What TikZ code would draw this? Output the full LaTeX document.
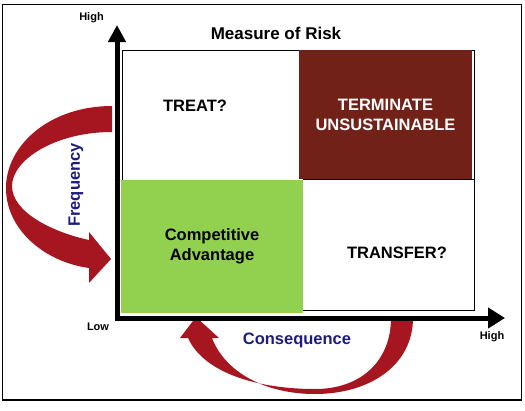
\documentclass[tikz,border=0pt]{standalone}
\usepackage{fontspec}
\setmainfont{Liberation Sans}
\usepackage{tikz}
\usetikzlibrary{arrows.meta,positioning}

\definecolor{termred}{RGB}{114,33,24}
\definecolor{compgreen}{RGB}{146,208,80}
\definecolor{curvered}{RGB}{165,22,32}
\definecolor{axisblue}{RGB}{28,28,125}

\begin{document}
\begin{tikzpicture}[
    x=1pt, y=-1pt,
    quad/.style={rectangle, inner sep=0pt, align=center, font=\bfseries\fontsize{16.5}{19.5}\selectfont},
    lbl/.style={inner sep=0pt, font=\bfseries\fontsize{11}{13}\selectfont},
    axislbl/.style={inner sep=0pt, text=axisblue, font=\bfseries\fontsize{16.5}{19.5}\selectfont},
    axis/.style={line width=5pt, {Triangle[length=17pt,width=17pt]}-{Triangle[length=17pt,width=20pt]}},
    curvearrow/.style={fill=curvered}
]
\useasboundingbox (0,0) rectangle (525,410);
\draw[line width=1.5pt] (2.5,4.5) rectangle (521.5,400);

% the four quadrants
\node[quad, draw, line width=1pt, minimum width=352pt, minimum height=260pt] (grid) at (298,180) {};
\node[quad, fill=termred, text=white, minimum width=173pt, minimum height=129pt] (terminate) at (385.5,114.8) {TERMINATE\\UNSUSTAINABLE};
\node[quad, fill=compgreen, minimum width=182pt, minimum height=133pt] (advantage) at (212,246.5) {Competitive\\Advantage};
\draw[line width=1pt] (advantage.north east) -- (grid.east |- advantage.north);
\node[quad] (treat) at (195,106) {TREAT?};
\node[quad] (transfer) at (397,253) {TRANSFER?};
\node[quad, font=\bfseries\fontsize{17}{20}\selectfont] (title) at (276,33) {Measure of Risk};

% curved arrows
\fill[curvearrow] (112,106) .. controls (50,106) and (6,145) .. (6,188)
    .. controls (6,230) and (45,262) .. (89,268)
    -- (89,283) -- (111,259) -- (89,232) -- (89,240)
    .. controls (52,232) and (12,212) .. (12,186)
    .. controls (12,160) and (55,132) .. (112,132) -- cycle;
\fill[curvearrow] (413,318) .. controls (413,365) and (370,394) .. (315,394)
    .. controls (265,394) and (225,372) .. (212,338)
    -- (219,338) -- (196,317) -- (180,338) -- (188,338)
    .. controls (205,375) and (262,389) .. (315,389)
    .. controls (362,389) and (391,360) .. (391,318) -- cycle;

% axes
\coordinate (origin) at (117,318);
\coordinate (ytip) at (117,25);
\coordinate (xtip) at (505,318);
\draw[axis] (ytip) -- (origin) -- (xtip);

\node[lbl] (yhigh) at (91.5,18) {High};
\node[lbl] (low) at (98,327) {Low};
\node[lbl] (xhigh) at (492,337) {High};
\node[axislbl, rotate=90] (frequency) at (76,185) {Frequency};
\node[axislbl] (consequence) at (297,340) {Consequence};
\end{tikzpicture}
\end{document}
